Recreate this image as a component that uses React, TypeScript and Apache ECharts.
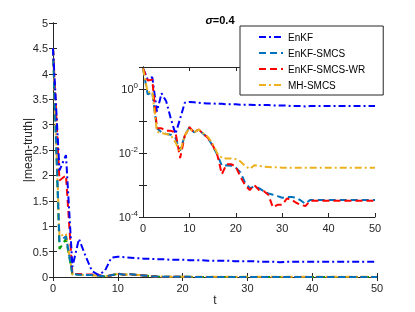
import React, { useEffect, useRef } from "react";
import * as echarts from "echarts";

// time steps t = 0..50 (index of each value)
const seriesNames = ["EnKF", "EnKF-SMCS", "EnKF-SMCS-WR", "MH-SMCS"];

const enkf = [
  4.5, 2.1, 2.4, 0.2, 0.75, 0.42, 0.12, 0.04, 0.12, 0.38,
  0.4, 0.39, 0.38, 0.37, 0.36, 0.36, 0.35, 0.35, 0.34, 0.34,
  0.34, 0.33, 0.33, 0.33, 0.32, 0.32, 0.32, 0.32, 0.31, 0.31,
  0.31, 0.31, 0.3, 0.3, 0.3, 0.29, 0.3, 0.3, 0.3, 0.3,
  0.3, 0.3, 0.3, 0.3, 0.3, 0.3, 0.3, 0.3, 0.3, 0.3, 0.3,
];
const enkfSmcs = [
  4.5, 0.7, 0.8, 0.06, 0.045, 0.04, 0.038, 0.03, 0.012, 0.035,
  0.065, 0.045, 0.055, 0.04, 0.03, 0.017, 0.009, 0.004, 0.0042, 0.004,
  0.0035, 0.0025, 0.0012, 0.0008, 0.0009, 0.0008, 0.00065, 0.00055, 0.0005, 0.00045,
  0.0004, 0.00042, 0.00042, 0.0004, 0.00033, 0.00026, 0.00034, 0.00034, 0.00034, 0.00034,
  0.00034, 0.00034, 0.00034, 0.00034, 0.00034, 0.00034, 0.00034, 0.00034, 0.00034, 0.00034, 0.00034,
];
const enkfSmcsWr = [
  4.5, 1.9, 2.0, 0.06, 0.06, 0.05, 0.05, 0.045, 0.007, 0.035,
  0.065, 0.045, 0.055, 0.04, 0.03, 0.018, 0.009, 0.0022, 0.0045, 0.0045,
  0.0038, 0.0018, 0.001, 0.0007, 0.001, 0.0007, 0.00065, 0.0005, 0.0002, 0.00024,
  0.00024, 0.00038, 0.00035, 0.00028, 0.00024, 0.00022, 0.00032, 0.00032, 0.00032, 0.00032,
  0.00032, 0.00032, 0.00032, 0.00032, 0.00032, 0.00032, 0.00032, 0.00032, 0.00032, 0.00032, 0.00032,
];
const mhSmcs = [
  4.5, 0.8, 0.85, 0.047, 0.042, 0.04, 0.036, 0.022, 0.011, 0.036,
  0.06, 0.045, 0.055, 0.042, 0.032, 0.02, 0.01, 0.007, 0.0068, 0.0068,
  0.0065, 0.0055, 0.004, 0.0032, 0.0042, 0.004, 0.0038, 0.0037, 0.0036, 0.0036,
  0.0035, 0.0035, 0.0035, 0.0035, 0.0035, 0.0035, 0.0035, 0.0035, 0.0035, 0.0035,
  0.0035, 0.0035, 0.0035, 0.0035, 0.0035, 0.0035, 0.0035, 0.0035, 0.0035, 0.0035, 0.0035,
];
// unlabeled green series, visible in main plot only
const greenExtra = [
  4.5, 0.55, 0.75, 0.05, 0.045, 0.04, 0.038, 0.03, 0.012, 0.035,
  0.06, 0.045, 0.05, 0.04, 0.03, 0.017, 0.009, 0.004, 0.0042, 0.004,
  0.0035, 0.0025, 0.0012, 0.0008, 0.0009, 0.0008, 0.00065, 0.00055, 0.0005, 0.00045,
  0.0004, 0.00042, 0.00042, 0.0004, 0.00033, 0.00026, 0.00034, 0.00034, 0.00034, 0.00034,
  0.00034, 0.00034, 0.00034, 0.00034, 0.00034, 0.00034, 0.00034, 0.00034, 0.00034, 0.00034, 0.00034,
];

const mainYTicks = { min: 0, max: 5, interval: 0.5 };
const tTicks = { min: 0, max: 50, interval: 10 };

const FONT = "'Liberation Sans', Arial, sans-serif";
const AX = "#262626";

export default function App() {
  const ref = useRef<HTMLDivElement>(null);
  useEffect(() => {
    if (!ref.current) return;
    const chart = echarts.init(ref.current, undefined, { renderer: "svg" });
    const toPts = (a: number[]) => a.map((v, i) => [i, v]);
    const styles: Record<string, any> = {
      EnKF: { color: "#0000FF", type: [7, 3, 2, 3] },
      "EnKF-SMCS": { color: "#0072BD", type: [7, 4] },
      "EnKF-SMCS-WR": { color: "#FF0000", type: [7, 4] },
      "MH-SMCS": { color: "#EDB120", type: [7, 3, 2, 3] },
      green: { color: "#00A000", type: [7, 4] },
    };
    const dataMap: Record<string, number[]> = {
      EnKF: enkf,
      "EnKF-SMCS": enkfSmcs,
      "EnKF-SMCS-WR": enkfSmcsWr,
      "MH-SMCS": mhSmcs,
    };
    const mk = (name: string, data: number[], xi: number, yi: number, key: string, z: number) => ({
      type: "line",
      name,
      xAxisIndex: xi,
      yAxisIndex: yi,
      data: toPts(data),
      showSymbol: false,
      symbol: "none",
      legendIcon: "none",
      color: styles[key].color,
      lineStyle: { color: styles[key].color, width: 2, type: styles[key].type },
      z,
    });
    const series: any[] = [];
    series.push(mk("green", greenExtra, 0, 0, "green", 2));
    [...seriesNames].reverse().forEach((n) => series.push(mk(n, dataMap[n], 0, 0, n, 2)));
    seriesNames.forEach((n) => series.push(mk(n, dataMap[n], 2, 2, n, 8)));

    const axisCommon = {
      axisLine: { show: true, lineStyle: { color: AX, width: 1 } },
      axisTick: { show: true, inside: true, length: 4, lineStyle: { color: AX } },
      splitLine: { show: false },
      axisLabel: { color: AX, fontSize: 11, fontFamily: FONT, margin: 5 },
    };
    const mirror = { axisLabel: { show: false } };

    const logFormatter = (v: number) => {
      const l = Math.log10(v);
      const e = Math.round(l);
      if (Math.abs(l - e) > 1e-6 || e % 2 !== 0) return "";
      return `{b|10}{s|${e}}`;
    };

    chart.setOption({
      animation: false,
      title: {
        text: "{i|σ}{b|=0.4}",
        left: 215,
        textAlign: "center",
        top: 9,
        textStyle: {
          fontFamily: FONT,
          rich: {
            i: { fontSize: 11, fontWeight: "bold", fontStyle: "italic", color: "#000", fontFamily: FONT },
            b: { fontSize: 11, fontWeight: "bold", color: "#000", fontFamily: FONT },
          },
        },
      },
      legend: {
        data: seriesNames,
        orient: "vertical",
        left: 240,
        top: 26,
        padding: [4, 18, 3, 18],
        itemWidth: 24,
        itemHeight: 10,
        itemGap: 2,
        itemStyle: { opacity: 0 },
        backgroundColor: "#fff",
        borderColor: AX,
        borderWidth: 1,
        textStyle: { fontSize: 10, fontFamily: FONT, color: "#000", lineHeight: 14 },
        z: 10,
      },
      grid: [
        { left: 53, right: 38, top: 23, bottom: 35, show: false },
        { left: 143, right: 40, top: 67, height: 150, show: true, backgroundColor: "#fff", borderWidth: 0, z: 5 },
      ],
      xAxis: [
        {
          type: "value", gridIndex: 0, ...tTicks, ...axisCommon,
          name: "t", nameLocation: "middle", nameGap: 17, nameMoveOverlap: false,
          nameTextStyle: { fontSize: 12, fontFamily: FONT, color: AX },
        },
        { type: "value", gridIndex: 0, position: "top", ...tTicks, ...axisCommon, ...mirror },
        { type: "value", gridIndex: 1, ...tTicks, ...axisCommon, z: 6 },
        { type: "value", gridIndex: 1, position: "top", ...tTicks, ...axisCommon, ...mirror, z: 6 },
      ],
      yAxis: [
        {
          type: "value", gridIndex: 0, ...mainYTicks, ...axisCommon,
          name: "|mean-truth|", nameLocation: "middle", nameGap: 19, nameMoveOverlap: false,
          nameTextStyle: { fontSize: 12, fontFamily: FONT, color: AX },
        },
        { type: "value", gridIndex: 0, position: "right", ...mainYTicks, ...axisCommon, ...mirror },
        {
          type: "log", gridIndex: 1, min: 1e-4, max: 5, logBase: 10, ...axisCommon,
          axisLabel: {
            color: AX, fontFamily: FONT, formatter: logFormatter, margin: 5,
            rich: {
              b: { fontSize: 11, color: AX, fontFamily: FONT },
              s: { fontSize: 8, color: AX, fontFamily: FONT, verticalAlign: "bottom", padding: [0, 0, 8, 0] },
            },
          },
          z: 6,
        },
        { type: "log", gridIndex: 1, position: "right", min: 1e-4, max: 5, logBase: 10, ...axisCommon, ...mirror, z: 6 },
      ],
      series,
    });
    return () => chart.dispose();
  }, []);
  return <div ref={ref} style={{ position: "fixed", left: 0, top: 0, width: 415, height: 312 }} />;
}
